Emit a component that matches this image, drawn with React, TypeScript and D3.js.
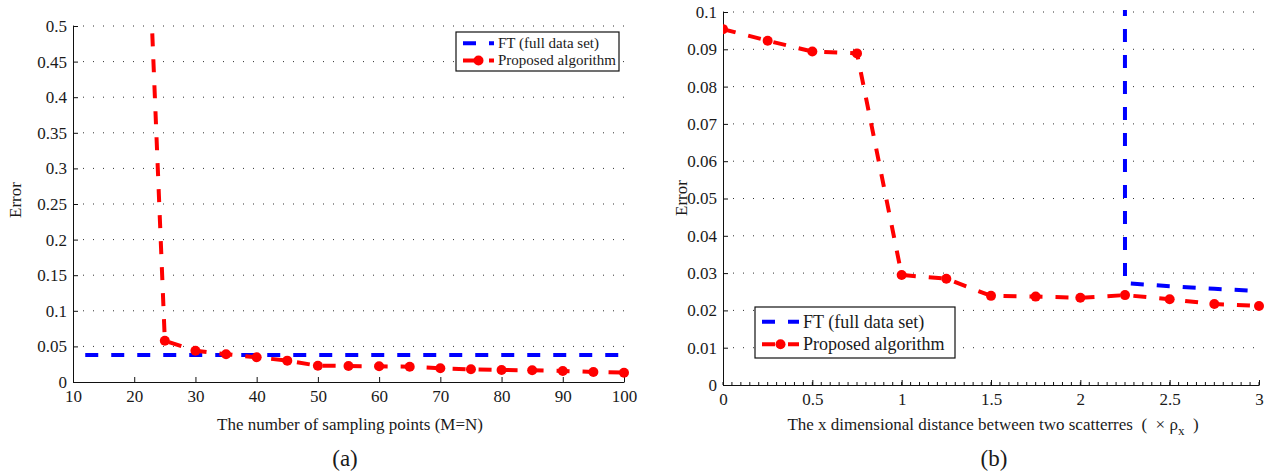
import { useEffect, useRef } from 'react';
import * as d3 from 'd3';

// panel (a): error vs number of sampling points
const aSamples = [20, 25, 30, 35, 40, 45, 50, 55, 60, 65, 70, 75, 80, 85, 90, 95, 100];
const aProposed = [1.11, 0.058, 0.044, 0.039, 0.0347, 0.030, 0.0229, 0.0225, 0.022, 0.0215, 0.0193, 0.0178, 0.0169, 0.0164, 0.0155, 0.0141, 0.0131];
const aFtX = [12, 100];
const aFt = [0.038, 0.038];
const aXTicks = [10, 20, 30, 40, 50, 60, 70, 80, 90, 100];
const aYTicks = [0, 0.05, 0.1, 0.15, 0.2, 0.25, 0.3, 0.35, 0.4, 0.45, 0.5];

// panel (b): error vs distance between scatterers
const bDist = [0, 0.25, 0.5, 0.75, 1, 1.25, 1.5, 1.75, 2, 2.25, 2.5, 2.75, 3];
const bProposed = [0.0954, 0.0923, 0.0894, 0.0889, 0.0295, 0.0285, 0.0239, 0.0237, 0.0234, 0.0241, 0.023, 0.0217, 0.0212];
const bFtX = [2, 2.25, 2.5, 2.75, 3];
const bFt = [60, 0.0273, 0.0265, 0.0258, 0.0252];
const bXTicks = [0, 0.5, 1, 1.5, 2, 2.5, 3];
const bYTicks = [0, 0.01, 0.02, 0.03, 0.04, 0.05, 0.06, 0.07, 0.08, 0.09, 0.1];

const FONT = "'Liberation Serif', 'Times New Roman', serif";
const RED = '#ff0000';
const BLUE = '#0000ff';
const DASH = '13,13';

type Panel = {
    id: string;
    x0: number; x1: number; y0: number; y1: number;
    xDomain: [number, number]; yDomain: [number, number];
    xTicks: number[]; yTicks: number[];
    minorTicks: boolean;
    px: number[]; py: number[];
    fx: number[]; fy: number[];
    legend: { x: number; y: number; w: number; h: number; font: number; lineW: number };
    yLabel: [number, number];
};

const App = () => {
    const svgRef = useRef<SVGSVGElement | null>(null);

    useEffect(() => {
        const svg = d3.select(svgRef.current);
        svg.selectAll('*').remove();

        const panels: Panel[] = [
            {
                id: 'a', x0: 73, x1: 624, y0: 382, y1: 26,
                xDomain: [10, 100], yDomain: [0, 0.5],
                xTicks: aXTicks, yTicks: aYTicks, minorTicks: false,
                px: aSamples, py: aProposed, fx: aFtX, fy: aFt,
                legend: { x: 456, y: 32, w: 163, h: 39, font: 15, lineW: 31 },
                yLabel: [17, 200],
            },
            {
                id: 'b', x0: 723, x1: 1259, y0: 385, y1: 12,
                xDomain: [0, 3], yDomain: [0, 0.1],
                xTicks: bXTicks, yTicks: bYTicks, minorTicks: true,
                px: bDist, py: bProposed, fx: bFtX, fy: bFt,
                legend: { x: 755, y: 307, w: 200, h: 51, font: 18, lineW: 37 },
                yLabel: [683, 198],
            },
        ];

        panels.forEach(p => {
            const x = d3.scaleLinear().domain(p.xDomain).range([p.x0, p.x1]);
            const y = d3.scaleLinear().domain(p.yDomain).range([p.y0, p.y1]);
            const g = svg.append('g');

            // dotted grid
            g.selectAll('line.grid')
                .data(p.yTicks.filter(t => t > 0))
                .join('line')
                .attr('x1', p.x0).attr('x2', p.x1)
                .attr('y1', d => y(d)).attr('y2', d => y(d))
                .attr('stroke', '#333')
                .attr('stroke-width', 1)
                .attr('stroke-dasharray', '1,9');

            // axes with inward ticks
            const xAxis = g.append('g')
                .attr('transform', `translate(0,${p.y0})`)
                .call(d3.axisBottom(x).tickValues(p.xTicks).tickSizeInner(-5).tickSizeOuter(0).tickPadding(8).tickFormat(d => String(d)));
            const yAxis = g.append('g')
                .attr('transform', `translate(${p.x0},0)`)
                .call(d3.axisLeft(y).tickValues(p.yTicks).tickSizeInner(-5).tickSizeOuter(0).tickPadding(6).tickFormat(d => String(d)));
            [xAxis, yAxis].forEach(ax => {
                ax.selectAll('text').style('font-family', FONT).style('font-size', '17px').attr('fill', '#1a1a1a');
                ax.selectAll('line, path').attr('stroke', '#111');
            });

            if (p.minorTicks) {
                g.selectAll('line.minor')
                    .data(x.ticks(60))
                    .join('line')
                    .attr('x1', d => x(d)).attr('x2', d => x(d))
                    .attr('y1', p.y0).attr('y2', p.y0 - 3)
                    .attr('stroke', '#111');
            }

            // clip to plot area
            const clipId = `clip-${p.id}`;
            svg.append('defs').append('clipPath').attr('id', clipId)
                .append('rect')
                .attr('x', p.x0).attr('y', p.y1 - 2)
                .attr('width', p.x1 - p.x0 + 8).attr('height', p.y0 - p.y1 + 2);
            const plot = g.append('g').attr('clip-path', `url(#${clipId})`);

            const line = d3.line<[number, number]>().x(d => x(d[0])).y(d => y(d[1]));

            plot.append('path')
                .attr('d', line(p.fx.map((v, i) => [v, p.fy[i]])))
                .attr('fill', 'none')
                .attr('stroke', BLUE)
                .attr('stroke-width', 4)
                .attr('stroke-dasharray', DASH);

            plot.append('path')
                .attr('d', line(p.px.map((v, i) => [v, p.py[i]])))
                .attr('fill', 'none')
                .attr('stroke', RED)
                .attr('stroke-width', 4)
                .attr('stroke-dasharray', DASH);

            plot.selectAll('circle')
                .data(p.px.map((v, i) => [v, p.py[i]]))
                .join('circle')
                .attr('cx', d => x(d[0]))
                .attr('cy', d => y(d[1]))
                .attr('r', 5)
                .attr('fill', RED);

            // y label
            g.append('text')
                .attr('transform', `translate(${p.yLabel[0]},${p.yLabel[1]}) rotate(-90)`)
                .attr('text-anchor', 'middle')
                .attr('dominant-baseline', 'middle')
                .style('font-family', FONT)
                .style('font-size', '17px')
                .attr('fill', '#1a1a1a')
                .text('Error');

            // legend
            const L = p.legend;
            const lg = g.append('g').attr('transform', `translate(${L.x},${L.y})`);
            lg.append('rect')
                .attr('width', L.w).attr('height', L.h)
                .attr('fill', 'white').attr('stroke', '#111').attr('stroke-width', 1.2);
            const rows = [
                { label: 'FT (full data set)', color: BLUE, marker: false },
                { label: 'Proposed algorithm', color: RED, marker: true },
            ];
            rows.forEach((r, i) => {
                const cy = L.h * (0.29 + i * 0.44);
                lg.append('line')
                    .attr('x1', 7).attr('x2', 7 + L.lineW)
                    .attr('y1', cy).attr('y2', cy)
                    .attr('stroke', r.color).attr('stroke-width', 4)
                    .attr('stroke-dasharray', DASH);
                if (r.marker) {
                    lg.append('circle')
                        .attr('cx', 7 + L.lineW / 2).attr('cy', cy).attr('r', 5).attr('fill', r.color);
                }
                lg.append('text')
                    .attr('x', 7 + L.lineW + 4)
                    .attr('y', cy)
                    .attr('dominant-baseline', 'central')
                    .style('font-family', FONT)
                    .style('font-size', `${L.font}px`)
                    .attr('fill', '#1a1a1a')
                    .text(r.label);
            });
        });

        // x labels and captions
        svg.append('text')
            .attr('x', 350).attr('y', 430)
            .attr('text-anchor', 'middle')
            .style('font-family', FONT).style('font-size', '17px').attr('fill', '#1a1a1a')
            .text('The number of sampling points (M=N)');

        const bl = svg.append('text')
            .attr('x', 993).attr('y', 430)
            .attr('text-anchor', 'middle')
            .style('font-family', FONT).style('font-size', '17px').attr('fill', '#1a1a1a');
        bl.append('tspan').text('The x dimensional distance between two scatterres\u00a0\u00a0(\u00a0\u00a0×\u00a0ρ');
        bl.append('tspan').attr('dy', 5).style('font-size', '13px').text('x');
        bl.append('tspan').attr('dy', -5).text('\u00a0\u00a0)');

        [['(a)', 345], ['(b)', 994]].forEach(([t, cx]) => {
            svg.append('text')
                .attr('x', cx as number).attr('y', 466)
                .attr('text-anchor', 'middle')
                .style('font-family', FONT).style('font-size', '23px').attr('fill', '#1a1a1a')
                .text(t as string);
        });
    }, []);

    return (
        <svg
            ref={svgRef}
            width={1273}
            height={475}
            style={{ position: 'absolute', left: 0, top: 0, background: 'white' }}
        />
    );
};

export default App;
